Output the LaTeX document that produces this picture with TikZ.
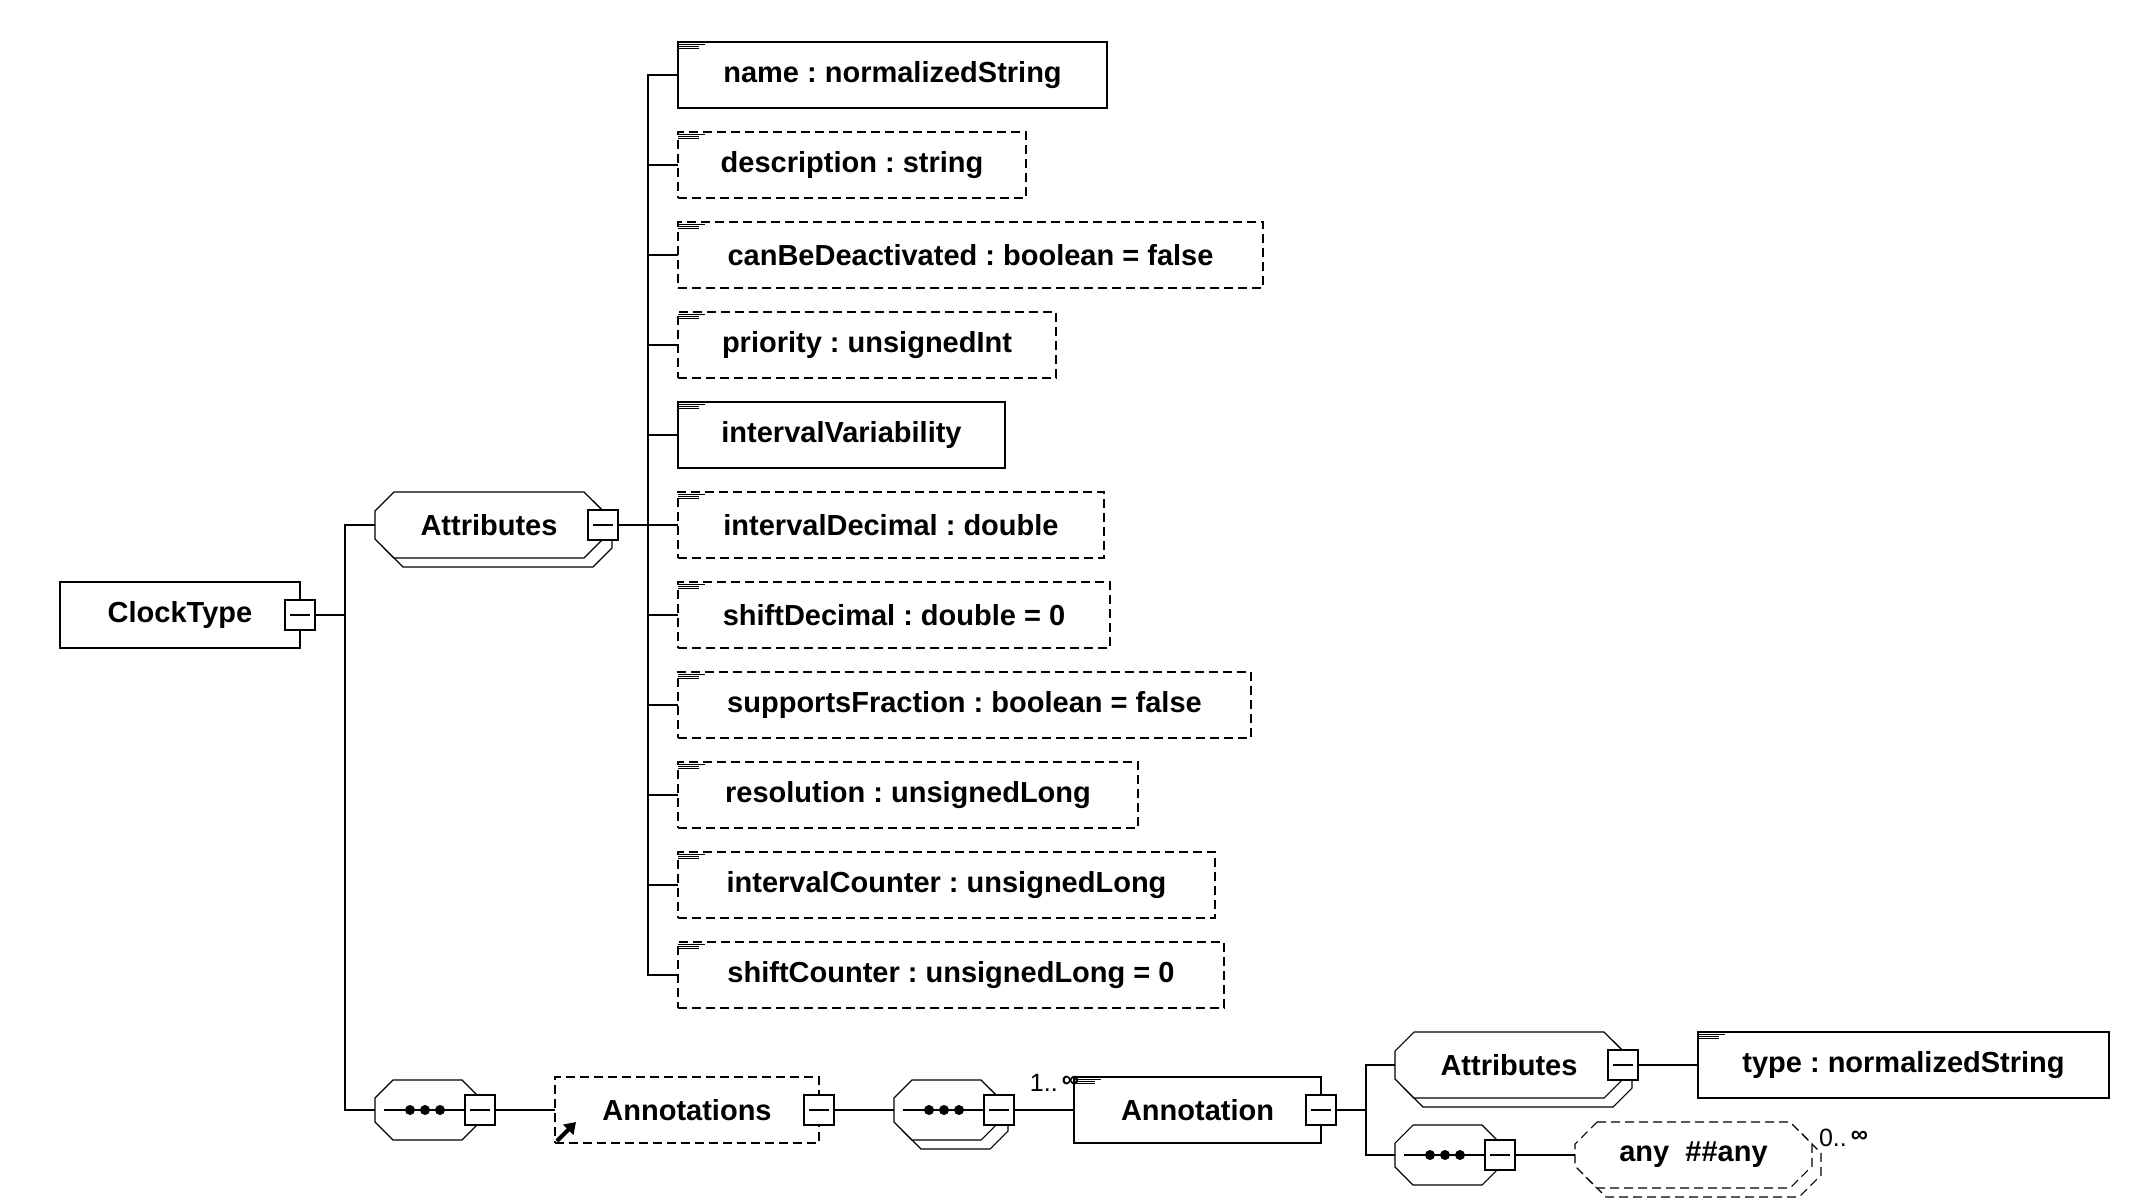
\documentclass[tikz,border=0pt]{standalone}
\usepackage{fontspec}
\setmainfont{Liberation Sans}
\usetikzlibrary{arrows.meta, calc, backgrounds}

\tikzset{
  every node/.style={font=\bfseries\fontsize{29}{34}\selectfont\frenchspacing, inner sep=0pt, outer sep=0pt},
  elembox/.style={draw, fill=white, anchor=west, minimum height=66pt},
  optbox/.style={elembox, dash pattern=on 9pt off 5pt},
  octnode/.style={anchor=west, minimum width=228pt, minimum height=66pt},
  seqnode/.style={anchor=west, minimum width=105pt, minimum height=60pt},
  minusbox/.style={draw, fill=white, minimum size=30pt,
    path picture={\draw ($(path picture bounding box.west)+(5pt,0pt)$) -- ++(20pt,0pt);}},
  tabline/.style={line width=0.9pt},
  refarrow/.style={line width=4pt, -{Triangle[length=11pt,width=14pt]}},
  multlabel/.style={font=\fontsize{25}{28}\selectfont}
}

% octagon outline round a node: [style]{node}{chamfer}{dx}{dy}
\newcommand{\octoutline}[5][]{%
  \draw[fill=white, line width=1.1pt, #1]
    ($(#2.north west)+(#3+#4,#5)$) -- ($(#2.north east)+(-#3+#4,#5)$) --
    ($(#2.north east)+(#4,#3+#5)$) -- ($(#2.south east)+(#4,-#3+#5)$) --
    ($(#2.south east)+(-#3+#4,#5)$) -- ($(#2.south west)+(#3+#4,#5)$) --
    ($(#2.south west)+(#4,-#3+#5)$) -- ($(#2.north west)+(#4,#3+#5)$) -- cycle;}

% small tab at the top left of a box
\newcommand{\attrtab}[1]{%
  \draw[tabline] ($(#1.north west)+(0,2)$) -- ++(27,0)
    ($(#1.north west)+(0,4)$) -- ++(21,0)
    ($(#1.north west)+(0,6)$) -- ++(21,0);}

% sequence compositor dots
\newcommand{\seqdots}[1]{%
  \draw ($(#1.west)+(9,0)$) -- (#1m.west);
  \foreach \d in {35,50,65} {\fill ($(#1.west)+(\d,0)$) circle (5pt);}}

\newcommand{\unbound}{\raisebox{0.3ex}{\bfseries\fontsize{24}{26}\selectfont ∞}}

\begin{document}
\begin{tikzpicture}[x=1pt, y=-1pt, line width=1.1pt]
    \useasboundingbox (0,0) rectangle (2139,1200);

    \coordinate (trA) at (345,0);
    \coordinate (trB) at (648,0);
    \coordinate (trC) at (1366,0);

    % root
    \node[elembox, minimum width=240pt] (clock) at (60,615) {ClockType};
    \node[minusbox] (clockm) at (clock.east) {};

    % attributes group
    \node[octnode] (attr) at (375,525) {Attributes};
    \begin{scope}[on background layer]
        \octoutline{attr}{19}{9}{9}
        \octoutline{attr}{19}{0}{0}
    \end{scope}
    \node[minusbox] (attrm) at (attr.east) {};

    \node[elembox, minimum width=429pt] (aname) at (678,75) {name : normalizedString};
    \node[optbox, minimum width=348pt] (adesc) at (678,165) {description : string};
    \node[optbox, minimum width=585pt] (adeact) at (678,255) {canBeDeactivated : boolean = false};
    \node[optbox, minimum width=378pt] (aprio) at (678,345) {priority : unsignedInt};
    \node[elembox, minimum width=327pt] (avar) at (678,435) {intervalVariability};
    \node[optbox, minimum width=426pt] (aintd) at (678,525) {intervalDecimal : double};
    \node[optbox, minimum width=432pt] (ashiftd) at (678,615) {shiftDecimal : double = 0};
    \node[optbox, minimum width=573pt] (afrac) at (678,705) {supportsFraction : boolean = false};
    \node[optbox, minimum width=460pt] (ares) at (678,795) {resolution : unsignedLong};
    \node[optbox, minimum width=537pt] (aintc) at (678,885) {intervalCounter : unsignedLong};
    \node[optbox, minimum width=546pt] (ashiftc) at (678,975) {shiftCounter : unsignedLong = 0};
    \foreach \n in {aname, adesc, adeact, aprio, avar, aintd, ashiftd, afrac, ares, aintc, ashiftc}
        {\attrtab{\n}}

    % sequence with annotations
    \node[seqnode] (seq1) at (375,1110) {};
    \begin{scope}[on background layer]
        \octoutline{seq1}{18}{0}{0}
    \end{scope}
    \node[minusbox] (seq1m) at (seq1.east) {};
    \seqdots{seq1}

    \node[optbox, minimum width=264pt] (annots) at (555,1110) {Annotations};
    \node[minusbox] (annotsm) at (annots.east) {};
    \draw[refarrow] ($(annots.south west)+(2,-2)$) -- ++(19,-19);

    \node[seqnode] (seq2) at (894,1110) {};
    \begin{scope}[on background layer]
        \octoutline{seq2}{18}{9}{9}
        \octoutline{seq2}{18}{0}{0}
    \end{scope}
    \node[minusbox] (seq2m) at (seq2.east) {};
    \seqdots{seq2}

    \node[elembox, minimum width=247pt] (annot) at (1074,1110) {Annotation};
    \node[minusbox] (annotm) at (annot.east) {};
    \attrtab{annot}
    \node[multlabel, anchor=base east] (annotmult) at (1079,1091) {1..\,\unbound};

    \node[octnode] (attr2) at (1395,1065) {Attributes};
    \begin{scope}[on background layer]
        \octoutline{attr2}{19}{9}{9}
        \octoutline{attr2}{19}{0}{0}
    \end{scope}
    \node[minusbox] (attr2m) at (attr2.east) {};
    \node[elembox, minimum width=411pt] (atype) at (1698,1065) {type : normalizedString};
    \attrtab{atype}

    \node[seqnode] (seq3) at (1395,1155) {};
    \begin{scope}[on background layer]
        \octoutline{seq3}{18}{0}{0}
    \end{scope}
    \node[minusbox] (seq3m) at (seq3.east) {};
    \seqdots{seq3}

    \node[anchor=west, minimum width=237pt, minimum height=66pt] (any) at (1575,1155) {any\ \ \#\#any};
    \begin{scope}[on background layer]
        \octoutline[dash pattern=on 9pt off 5pt]{any}{22}{9}{9}
        \octoutline[dash pattern=on 9pt off 5pt]{any}{22}{0}{0}
    \end{scope}
    \node[multlabel, anchor=base west] (anymult) at (1819,1146) {0..\,\unbound};

    % connectors
    \draw (clockm.east) -- (clockm.east -| trA);
    \draw (attr.west) -- (attr.west -| trA) |- (seq1.west);
    \draw (attrm.east) -- (attrm.east -| trB);
    \draw (aname.west) -- (aname.west -| trB) |- (ashiftc.west);
    \foreach \n in {adesc, adeact, aprio, avar, aintd, ashiftd, afrac, ares, aintc}
        {\draw (\n.west) -- (\n.west -| trB);}
    \draw (seq1m.east) -- (annots.west);
    \draw (annotsm.east) -- (seq2.west);
    \draw (seq2m.east) -- (annot.west);
    \draw (annotm.east) -- (annotm.east -| trC);
    \draw (attr2.west) -- (attr2.west -| trC) |- (seq3.west);
    \draw (attr2m.east) -- (atype.west);
    \draw (seq3m.east) -- (any.west);
\end{tikzpicture}
\end{document}
